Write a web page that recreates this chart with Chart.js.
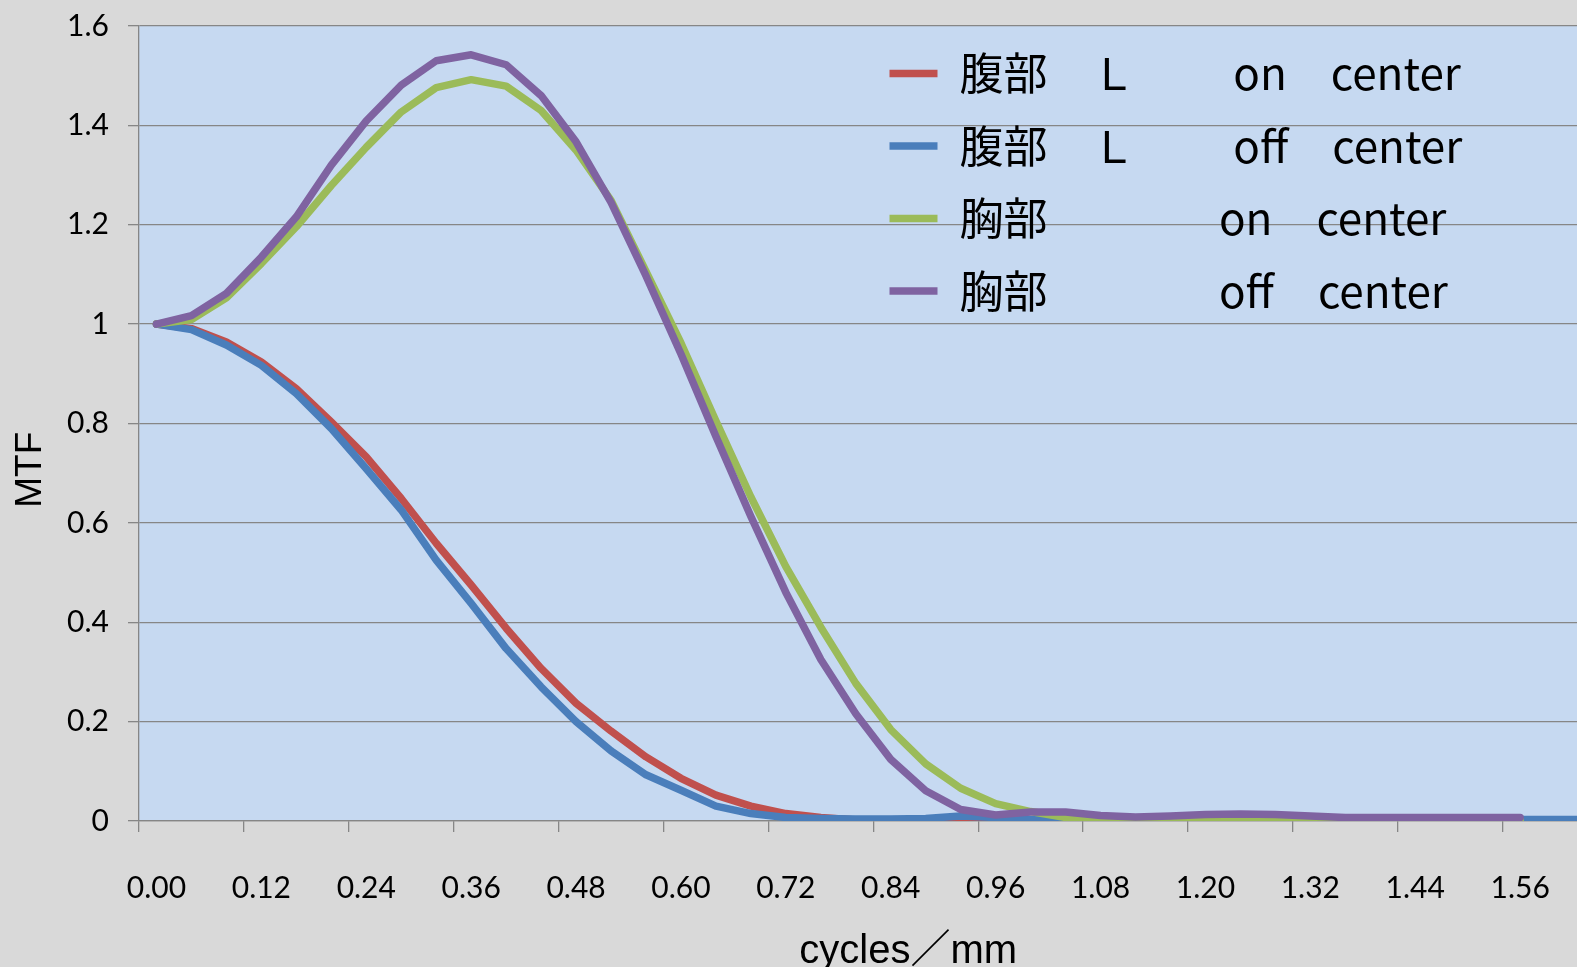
<!DOCTYPE html>
<html lang="ja">
<head>
<meta charset="UTF-8">
<title>MTF</title>
<script src="https://cdn.jsdelivr.net/npm/chart.js"></script>
<style>
  body {margin: 0; background: #d9d9d9; overflow: hidden;}
  .wrap {width: 1698px; height: 967px;}
</style>
</head>
<body>
<div class="wrap"><canvas id="mtfChart"></canvas></div>
<script>
  // 空間周波数 (cycles/mm)
  const freqs = ['0.00','0.04','0.08','0.12','0.16','0.20','0.24','0.28','0.32','0.36',
                 '0.40','0.44','0.48','0.52','0.56','0.60','0.64','0.68','0.72','0.76',
                 '0.80','0.84','0.88','0.92','0.96','1.00','1.04','1.08','1.12','1.16',
                 '1.20','1.24','1.28','1.32','1.36','1.40','1.44','1.48','1.52','1.56',
                 '1.60','1.64','1.68','1.72'];

  // 腹部 L on center
  const absOn = [1.000,0.991,0.964,0.924,0.870,0.803,0.733,0.649,0.559,0.475,
                 0.388,0.307,0.237,0.181,0.129,0.086,0.052,0.030,0.015,0.007,
                 0.002,0.001,0,0,0,0,0,0,0,0,
                 0.001,0.002,0.001,0,0,0,0,0,0,0,
                 0,0,0,0];
  // 腹部 L off center
  const absOff = [1.000,0.989,0.958,0.917,0.860,0.790,0.709,0.626,0.525,0.438,
                  0.347,0.270,0.200,0.141,0.093,0.062,0.030,0.015,0.007,0.005,
                  0.004,0.004,0.005,0.010,0.007,0.003,0.001,0.001,0.001,0.001,
                  0.002,0.003,0.002,0.001,0.001,0.001,0.001,0.002,0.002,0.003,
                  0.003,0.003,0.003,0.003];
  // 胸部 on center
  const chestOn = [1.000,1.009,1.053,1.122,1.196,1.279,1.356,1.427,1.476,1.492,
                   1.479,1.430,1.350,1.249,1.106,0.962,0.805,0.652,0.512,0.390,
                   0.277,0.184,0.115,0.066,0.035,0.019,0.007,0.002,0.002,0.003,
                   0.004,0.005,0.004,0.002,0.001,0.001,0.001,0.001,0.001,0.001];
  // 胸部 off center
  const chestOff = [1.000,1.017,1.062,1.135,1.216,1.320,1.409,1.481,1.530,1.542,
                    1.522,1.460,1.367,1.245,1.097,0.940,0.774,0.613,0.460,0.325,
                    0.216,0.124,0.061,0.023,0.012,0.018,0.018,0.011,0.008,0.010,
                    0.013,0.014,0.013,0.010,0.007,0.007,0.007,0.007,0.007,0.007];

  const names = ['腹部\u3000Ｌ\u3000\u3000 on\u3000center',
                 '腹部\u3000Ｌ\u3000\u3000 off\u3000center',
                 '胸部\u3000\u3000\u3000    on\u3000center',
                 '胸部\u3000\u3000\u3000    off\u3000center'];
  const colors = ['#c0504d', '#4a7ebb', '#9bbb59', '#7f63a1'];
  const yMax = 1.6, yStep = 0.2;

  const gridGray = '#868686';

  // プロットエリアの背景
  const plotBg = {
    id: 'plotBg',
    beforeDraw(chart) {
      const {ctx, chartArea: a} = chart;
      ctx.save();
      ctx.fillStyle = '#c6d9f1';
      ctx.fillRect(a.left, a.top, a.right - a.left, a.bottom - a.top);
      ctx.restore();
    }
  };

  // 凡例をプロット内の右上へ
  const legendSpot = {
    id: 'legendSpot',
    afterLayout(chart) {
      const lg = chart.legend;
      lg.left = chart.chartArea.left + 722;
      lg.top = 23;
    }
  };

  function series(i, data, order) {
    return {
      label: names[i],
      data: data,
      borderColor: colors[i],
      backgroundColor: colors[i],
      borderWidth: 7.5,
      borderCapStyle: 'round',
      borderJoinStyle: 'round',
      pointRadius: 0,
      fill: false,
      tension: 0,
      order: order
    };
  }

  new Chart(document.getElementById('mtfChart'), {
    type: 'line',
    data: {
      labels: freqs,
      datasets: [
        series(0, absOn, 4),
        series(1, absOff, 3),
        series(2, chestOn, 2),
        series(3, chestOff, 1)
      ]
    },
    options: {
      responsive: true,
      maintainAspectRatio: false,
      animation: false,
      events: [],
      layout: { padding: { top: 26, left: 0, right: 0, bottom: 0 } },
      scales: {
        x: {
          type: 'category',
          offset: true,
          afterFit: s => { s.height = 146; },
          grid: {
            offset: true,
            drawOnChartArea: false,
            tickLength: 11,
            lineWidth: 1.3,
            color: ctx => (ctx.index % 3 === 0 ? gridGray : 'rgba(0,0,0,0)')
          },
          border: { color: gridGray, width: 1.3 },
          ticks: {
            autoSkip: false,
            maxRotation: 0,
            minRotation: 0,
            padding: 38,
            color: '#000',
            font: { family: 'Lato', size: 30 },
            callback: function(value, index) {
              return index % 3 === 0 ? this.getLabelForValue(value) : '';
            }
          },
          title: {
            display: true,
            text: 'cycles／mm',
            color: '#000',
            font: { family: "'Liberation Sans', 'Noto Sans CJK JP'", size: 40, lineHeight: 1 },
            padding: { top: 0, bottom: -5 }
          }
        },
        y: {
          min: 0,
          max: yMax,
          afterFit: s => { s.width = 139; },
          grid: { color: gridGray, lineWidth: 1.3, tickLength: 11 },
          border: { color: gridGray, width: 1.3 },
          ticks: {
            stepSize: yStep,
            padding: 19,
            color: '#000',
            font: { family: 'Lato', size: 30, lineHeight: 0.4 },
            callback: v => String(Number(v.toFixed(1)))
          },
          title: {
            display: true,
            text: 'MTF         ',
            color: '#000',
            font: { family: "'Liberation Sans'", size: 37, lineHeight: 1 },
            padding: { top: 12.5, bottom: 0 }
          }
        }
      },
      plugins: {
        tooltip: { enabled: false },
        legend: {
          position: 'chartArea',
          align: 'start',
          labels: {
            usePointStyle: true,
            pointStyle: 'line',
            pointStyleWidth: 48,
            padding: 28.5,
            color: '#000',
            font: { family: "'Noto Sans CJK JP'", size: 44 },
            sort: (a, b) => a.datasetIndex - b.datasetIndex
          }
        }
      }
    },
    plugins: [plotBg, legendSpot]
  });
</script>
</body>
</html>
